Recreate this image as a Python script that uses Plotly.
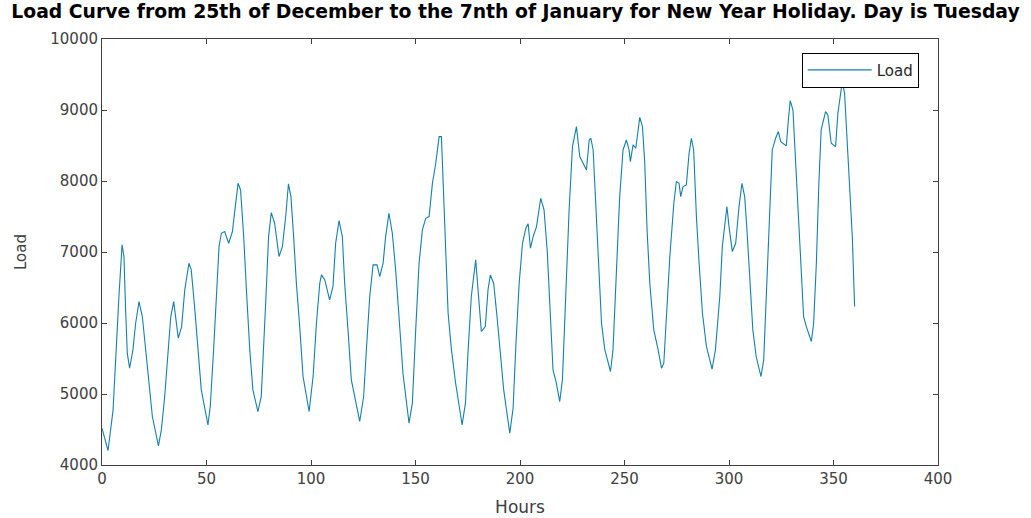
import plotly.graph_objects as go

# Hourly load readings (hour index, load)
hours = [
    0, 2.9, 5.3, 6.9, 8.1, 9.6, 10.5, 11.3, 12.1, 13.2, 14.8, 16.1, 17.7, 19.3, 20.9,
    22.5, 24.1, 27.0, 28.4, 30.0, 31.6, 32.9, 34.3, 35.2, 36.5, 38.1, 39.6, 41.6, 42.7,
    44.3, 45.9, 47.5, 50.7, 51.8, 53.4, 54.7, 56.0, 57.1, 58.7, 60.6, 62.4, 63.6, 65.1,
    66.3, 67.8, 69.1, 70.7, 72.2, 74.6, 76.2, 77.4, 78.6, 79.7, 81.0, 82.6, 84.7, 86.3,
    87.9, 89.2, 90.4, 91.7, 93.0, 94.6, 96.2, 99.1, 101.0, 102.6, 104.2, 105.0, 106.6,
    108.9, 110.5, 111.8, 113.4, 115.0, 116.1, 117.7, 119.3, 123.3, 125.2, 126.5, 128.1,
    129.7, 131.6, 132.9, 134.5, 135.7, 137.3, 138.9, 140.5, 142.1, 144.0, 146.9, 148.5,
    150.1, 151.7, 153.3, 154.9, 156.5, 158.1, 159.7, 161.3, 162.4, 163.5, 164.5, 165.6,
    167.2, 169.2, 172.3, 173.9, 175.1, 176.7, 178.8, 179.9, 181.5, 183.4, 184.7, 185.8,
    187.4, 189.0, 190.6, 192.2, 195.1, 196.7, 198.0, 199.6, 201.2, 202.8, 203.9, 205.0,
    206.3, 207.9, 209.9, 211.5, 213.0, 214.6, 215.8, 217.4, 219.0, 220.3, 221.9, 223.5,
    225.1, 227.0, 228.6, 231.8, 233.1, 233.9, 235.0, 236.2, 237.4, 239.0, 240.6, 243.3,
    244.5, 246.1, 247.7, 249.3, 250.9, 252.2, 252.8, 254.1, 255.4, 257.3, 258.6, 259.7,
    260.8, 262.1, 264.0, 266.1, 267.7, 268.8, 270.1, 271.7, 273.6, 274.8, 276.1, 276.9,
    278.0, 279.6, 280.9, 282.0, 283.1, 284.4, 285.7, 287.3, 289.2, 291.9, 293.5, 295.6,
    296.8, 299.0, 300.0, 301.6, 303.2, 304.8, 306.2, 307.5, 308.6, 310.2, 311.4, 313.0,
    315.3, 316.6, 317.8, 319.4, 320.7, 322.3, 323.6, 324.8, 327.4, 328.4, 329.3, 330.6,
    331.9, 333.5, 334.6, 335.7, 337.0, 339.4, 340.5, 341.8, 343.0, 344.1, 346.2, 347.3,
    348.9, 351.0, 352.1, 354.2, 355.3, 356.4, 357.7, 359.0, 360.1,
]
load = [
    4519, 4204, 4777, 5809, 6372, 7100, 6936, 6185, 5575, 5363, 5622, 5997, 6302, 6091, 5622,
    5152, 4683, 4270, 4495, 4965, 5622, 6091, 6302, 6091, 5786, 5950, 6466, 6842, 6748,
    6231, 5622, 5058, 4566, 4824, 5622, 6373, 7076, 7264, 7288, 7123, 7288, 7593, 7968,
    7874, 7217, 6466, 5622, 5058, 4753, 4965, 5622, 6466, 7217, 7555, 7405, 6936, 7076,
    7499, 7959, 7780, 7217, 6560, 5950, 5246, 4753, 5246, 5997, 6560, 6677, 6607,
    6326, 6513, 7123, 7442, 7217, 6560, 5903, 5199, 4613, 4965, 5622, 6373,
    6818, 6818, 6654, 6842, 7217, 7546, 7264, 6748, 6091, 5293, 4589, 4871,
    5903, 6842, 7311, 7475, 7499, 7968, 8250, 8625, 8625, 7780, 6842, 6138,
    5622, 5152, 4566, 4871, 5575, 6373, 6889, 6513, 5880, 5950, 6466, 6677,
    6560, 6091, 5622, 5058, 4448, 4800, 5669, 6560, 7123, 7335, 7396, 7053,
    7217, 7358, 7757, 7593, 7029, 6091, 5340, 5152, 4894, 5199, 6373, 7593,
    8484, 8766, 8344, 8156, 8578, 8602, 8437, 7686, 6842, 5997, 5622, 5317,
    5622, 6748, 7780, 8437, 8578, 8437, 8273, 8508, 8461, 8897, 8766, 8250,
    7311, 6560, 5903, 5622, 5364, 5434, 6091, 6936, 7686, 7992, 7968, 7780,
    7921, 7945, 8390, 8602, 8437, 7499, 6842, 6138, 5669, 5349, 5622, 6373,
    7076, 7640, 7358, 7006, 7123, 7640, 7968, 7780, 7311, 6560, 5903, 5528,
    5246, 5481, 6373, 7499, 8437, 8602, 8696, 8555, 8494, 8860, 9132, 9000,
    8250, 7499, 6748, 6091, 5950, 5739, 5997, 6842, 7968, 8719, 8977, 8930,
    8531, 8484, 8954, 9399, 9235, 8625, 7874, 7217, 6231,
]

x_ticks = [0, 50, 100, 150, 200, 250, 300, 350, 400]
y_ticks = [4000, 5000, 6000, 7000, 8000, 9000, 10000]
y_tick_text = [str(v) for v in y_ticks]

axis_color = "#404040"
font_family = "DejaVu Sans, Liberation Sans, sans-serif"

fig = go.Figure()
fig.add_trace(go.Scatter(
    x=hours, y=load, mode="lines", name="Load",
    line=dict(color="#1580ab", width=1.1),
))

axis_common = dict(
    showgrid=False, zeroline=False, automargin=False,
    showline=True, linecolor=axis_color, linewidth=1, mirror="allticks",
    ticks="inside", ticklen=5, tickcolor=axis_color, tickwidth=1,
    tickfont=dict(family=font_family, size=15, color=axis_color),
)

fig.update_layout(
    width=1031, height=518,
    margin=dict(l=102, r=93, t=39, b=53),
    paper_bgcolor="white", plot_bgcolor="white",
    title=dict(
        text="<b>Load Curve from 25th of December to the 7nth of January for New Year Holiday. Day is Tuesday</b>",
        x=0.5, xanchor="center", y=0.99, yanchor="top",
        font=dict(family=font_family, size=18.8, color="black"),
    ),
    xaxis=dict(
        range=[0, 400], tickvals=x_ticks,
        title=dict(text="Hours", font=dict(family=font_family, size=17, color=axis_color), standoff=14),
        **axis_common,
    ),
    yaxis=dict(
        range=[4000, 10000], tickvals=y_ticks, ticktext=y_tick_text,
        title=dict(text="Load", font=dict(family=font_family, size=15, color=axis_color), standoff=20),
        **axis_common,
    ),
    showlegend=True,
    legend=dict(
        x=0.977, y=0.968, xanchor="right", yanchor="top",
        bgcolor="white", bordercolor="black", borderwidth=1,
        font=dict(family=font_family, size=15, color="#262626"),
        itemwidth=64, tracegroupgap=0,
    ),
)

fig.write_html("out.html")
